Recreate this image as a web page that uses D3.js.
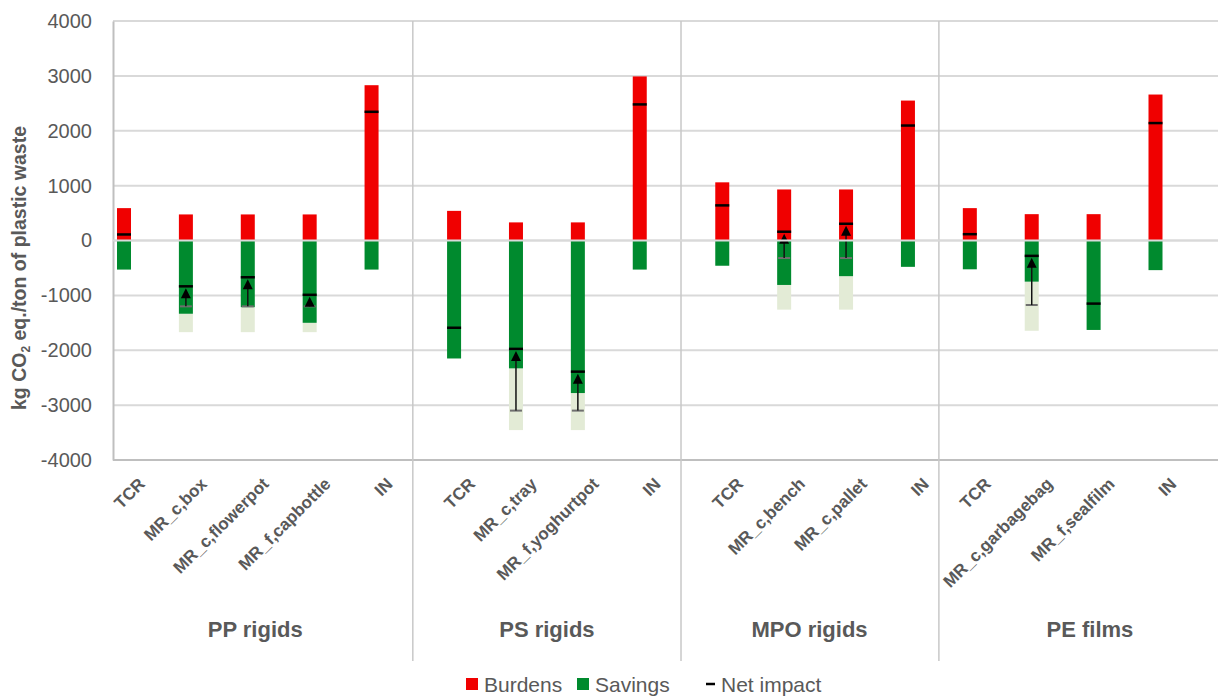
<!DOCTYPE html>
<meta charset="utf-8">
<head>
  <title>Burdens and savings</title>
</head>
<body style="margin:0;background:#fff">
<style>
text { font-family: "Liberation Sans", Arial, sans-serif; fill: #595959; }
.tick text { font-size: 20px; }
.cat { font-size: 17px; font-weight: bold; }
.grp { font-size: 22px; font-weight: bold; }
.ytitle { font-size: 19.5px; font-weight: bold; }
.legend text { font-size: 21px; }
</style>
<svg width="1218" height="697"></svg>
<script src="https://cdn.jsdelivr.net/npm/d3@7"></script>
<script>

// chart values
var groups = ["PP rigids", "PS rigids", "MPO rigids", "PE films"];
var categories = [
  "TCR", "MR_c,box", "MR_c,flowerpot", "MR_f,capbottle", "IN",
  "TCR", "MR_c,tray", "MR_f,yoghurtpot", "IN",
  "TCR", "MR_c,bench", "MR_c,pallet", "IN",
  "TCR", "MR_c,garbagebag", "MR_f,sealfilm", "IN"
];
var groupOf   = [0,0,0,0,0, 1,1,1,1, 2,2,2,2, 3,3,3,3];
var burdens   = [590, 475, 475, 475, 2830, 540, 330, 330, 2990, 1060, 930, 930, 2550, 590, 480, 480, 2660];
var savings   = [-530, -1335, -1215, -1500, -530, -2150, -2330, -2780, -530, -460, -810, -650, -480, -525, -750, -1630, -540];
var savingsLow = [null, -1670, -1670, -1670, null, null, -3455, -3455, null, null, -1260, -1260, null, null, -1645, null, null];
var netImpact = [110, -835, -670, -990, 2345, -1590, -1975, -2390, 2480, 640, 160, 305, 2095, 115, -280, -1150, 2140];
var netLow    = [null, -1200, -1200, -1200, null, null, -3100, -3100, null, null, -320, -320, null, null, -1175, null, null];
var yTicks = [-4000, -3000, -2000, -1000, 0, 1000, 2000, 3000, 4000];
var legendItems = ["Burdens", "Savings", "Net impact"];

// layout
var gapSlots = [0, 1/3, 2/3, 2/3];       // extra space before each group
var grpLabelShift = [0.12, 0, -0.09, 0.44];
var mLeft = 113, mRight = 1218, mTop = 21, mBottom = 460;
var barW = 14;

var red = "#f00000", green = "#008a2e", lightGreen = "#e3ebd6";

var data = categories.map(function(c, i) {
  return {
    name: c, g: groupOf[i], slot: i + gapSlots[groupOf[i]],
    burden: burdens[i], saving: savings[i], savingLow: savingsLow[i],
    net: netImpact[i], netLow: netLow[i]
  };
});

var svg = d3.select("svg");

var y = d3.scaleLinear().domain([-4000, 4000]).range([mBottom, mTop]);
var x = d3.scaleLinear()
    .domain([0, d3.max(data, function(d) { return d.slot; })])
    .range([124, 1155.5]);

// grid
svg.append("g").selectAll("line")
    .data(yTicks)
    .enter().append("line")
    .attr("x1", mLeft).attr("x2", mRight)
    .attr("y1", function(d) { return y(d); })
    .attr("y2", function(d) { return y(d); })
    .attr("stroke", "#d9d9d9")
    .attr("stroke-width", 2);

// y axis labels
var yAxis = svg.append("g")
    .attr("transform", "translate(" + mLeft + ",0)")
    .call(d3.axisLeft(y).tickValues(yTicks).tickSize(0).tickPadding(21)
      .tickFormat(function(d) { return String(d); }));
yAxis.select(".domain").attr("stroke", "#bfbfbf").attr("stroke-width", 2);
yAxis.selectAll("text").attr("fill", "#595959");

svg.append("text")
    .attr("class", "ytitle")
    .attr("transform", "translate(26,268) rotate(-90)")
    .attr("text-anchor", "middle")
    .call(function(t) {
      t.append("tspan").text("kg CO");
      t.append("tspan").attr("font-size", "12px").attr("dy", 4).text("2");
      t.append("tspan").attr("dy", -4).text(" eq./ton of plastic waste");
    });

// bottom line and group separators
svg.append("line")
    .attr("x1", mLeft).attr("x2", mRight)
    .attr("y1", mBottom).attr("y2", mBottom)
    .attr("stroke", "#bfbfbf").attr("stroke-width", 2);

var seps = d3.range(1, groups.length).map(function(g) {
  var prev = data.filter(function(d) { return d.g == g - 1; });
  var next = data.filter(function(d) { return d.g == g; });
  return (prev[prev.length - 1].slot + next[0].slot) / 2;
});
svg.append("g").selectAll("line")
    .data(seps)
    .enter().append("line")
    .attr("x1", function(d) { return x(d); })
    .attr("x2", function(d) { return x(d); })
    .attr("y1", mTop).attr("y2", 661)
    .attr("stroke", "#c8c8c8").attr("stroke-width", 1.5);

// bars
var bar = svg.append("g").selectAll("g")
    .data(data)
    .enter().append("g");

bar.filter(function(d) { return d.savingLow != null; })
  .append("rect")
    .attr("x", function(d) { return x(d.slot) - barW / 2; })
    .attr("width", barW)
    .attr("y", function(d) { return y(d.saving); })
    .attr("height", function(d) { return y(d.savingLow) - y(d.saving); })
    .attr("fill", lightGreen);

bar.append("rect")
    .attr("x", function(d) { return x(d.slot) - barW / 2; })
    .attr("width", barW)
    .attr("y", function(d) { return y(d.burden); })
    .attr("height", function(d) { return y(0) - y(d.burden); })
    .attr("fill", red);

bar.append("rect")
    .attr("x", function(d) { return x(d.slot) - barW / 2; })
    .attr("width", barW)
    .attr("y", y(0))
    .attr("height", function(d) { return y(d.saving) - y(0); })
    .attr("fill", green);

// zero line over bars
svg.append("line")
    .attr("x1", mLeft).attr("x2", mRight)
    .attr("y1", y(0)).attr("y2", y(0))
    .attr("stroke", "#d9d9d9").attr("stroke-width", 2);

// net impact: lower tick, arrow, upper tick
var arr = bar.filter(function(d) { return d.netLow != null; });
arr.append("line")
    .attr("x1", function(d) { return x(d.slot) - 6; })
    .attr("x2", function(d) { return x(d.slot) + 6; })
    .attr("y1", function(d) { return y(d.netLow); })
    .attr("y2", function(d) { return y(d.netLow); })
    .attr("stroke", "#6f6f6f").attr("stroke-width", 2);
arr.append("line")
    .attr("x1", function(d) { return x(d.slot); })
    .attr("x2", function(d) { return x(d.slot); })
    .attr("y1", function(d) { return y(d.netLow); })
    .attr("y2", function(d) { return y(d.net) + 6; })
    .attr("stroke", "#111").attr("stroke-width", 1.5);
arr.append("path")
    .attr("d", function(d) {
      var cx = x(d.slot), ty = y(d.net) + 2;
      return "M" + cx + "," + ty + "L" + (cx + 5) + "," + (ty + 10) + "L" + (cx - 5) + "," + (ty + 10) + "Z";
    })
    .attr("fill", "#000");

bar.append("line")
    .attr("x1", function(d) { return x(d.slot) - 7; })
    .attr("x2", function(d) { return x(d.slot) + 7; })
    .attr("y1", function(d) { return y(d.net); })
    .attr("y2", function(d) { return y(d.net); })
    .attr("stroke", "#000").attr("stroke-width", 2.5);

// category labels
svg.append("g").selectAll("text")
    .data(data)
    .enter().append("text")
    .attr("class", "cat")
    .attr("text-anchor", "end")
    .attr("transform", function(d) { return "translate(" + (x(d.slot) + 22) + ",485) rotate(-45)"; })
    .text(function(d) { return d.name; });

// group labels
svg.append("g").selectAll("text")
    .data(groups)
    .enter().append("text")
    .attr("class", "grp")
    .attr("text-anchor", "middle")
    .attr("x", function(g, i) {
      var s = data.filter(function(d) { return d.g == i; });
      return x((s[0].slot + s[s.length - 1].slot) / 2 + grpLabelShift[i]);
    })
    .attr("y", 637)
    .text(function(g) { return g; });

// legend
var legend = svg.append("g").attr("class", "legend");
var lx = [466, 577, 706];
legendItems.forEach(function(name, i) {
  if (i < 2) {
    legend.append("rect")
        .attr("x", lx[i]).attr("y", 678)
        .attr("width", 12).attr("height", 12)
        .attr("fill", i == 0 ? red : green);
  } else {
    legend.append("line")
        .attr("x1", lx[i]).attr("x2", lx[i] + 9)
        .attr("y1", 684).attr("y2", 684)
        .attr("stroke", "#000").attr("stroke-width", 2.5);
  }
  legend.append("text")
      .attr("x", lx[i] + (i < 2 ? 18 : 15))
      .attr("y", 692)
      .text(name);
});

</script>
</body>
